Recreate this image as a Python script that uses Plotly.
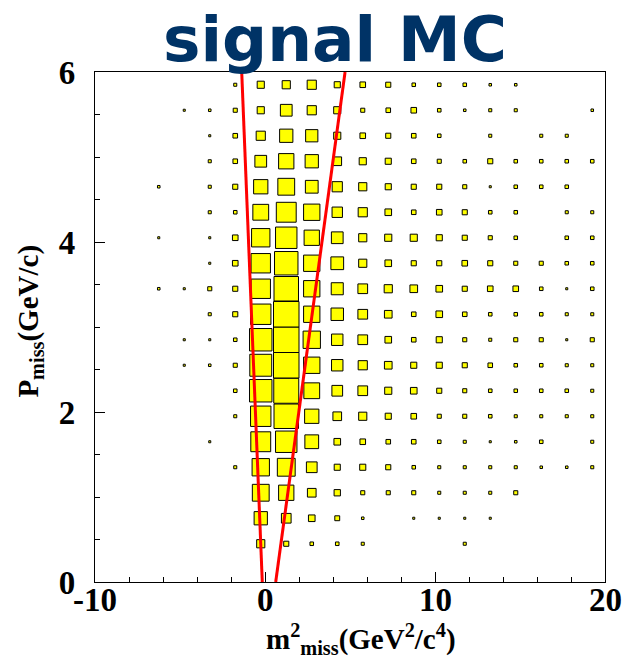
import plotly.graph_objects as go

# Histogram binning: m^2_miss (x) and P_miss (y)
x_lo, x_hi, nx = -10.0, 20.0, 20
y_lo, y_hi, ny = 0.0, 6.0, 20

# Axis tick labels
x_tick_vals = [-10, 0, 10, 20]
x_tick_text = ["-10", "0", "10", "20"]

# Bin contents, one list per P_miss bin (lowest first), 20 m^2_miss bins each
row_00 = [0, 0, 0, 0, 0, 0, 0, 0, 0, 0, 0, 0, 0, 0, 0, 0, 0, 0, 0, 0]
row_01 = [0, 0, 0, 0, 0, 0, 80, 50, 35, 35, 30, 0, 0, 0, 30, 0, 0, 0, 0, 0]
row_02 = [0, 0, 0, 0, 0, 0, 130, 95, 65, 48, 25, 0, 20, 20, 20, 20, 0, 0, 0, 0]
row_03 = [0, 0, 0, 0, 0, 0, 165, 150, 85, 62, 40, 40, 40, 30, 30, 30, 40, 0, 0, 0]
row_04 = [0, 0, 0, 0, 0, 30, 170, 175, 105, 60, 60, 50, 35, 30, 30, 30, 30, 25, 25, 30]
row_05 = [0, 0, 0, 0, 20, 0, 195, 210, 135, 65, 55, 45, 45, 35, 30, 20, 25, 35, 0, 30]
row_06 = [0, 0, 0, 0, 0, 30, 200, 240, 140, 85, 80, 60, 55, 40, 40, 35, 30, 30, 30, 30]
row_07 = [0, 0, 0, 0, 0, 35, 220, 245, 155, 105, 95, 70, 65, 50, 40, 35, 35, 35, 35, 30]
row_08 = [0, 0, 0, 20, 25, 40, 215, 250, 160, 112, 90, 75, 60, 60, 50, 45, 35, 35, 30, 30]
row_09 = [0, 0, 0, 20, 20, 35, 220, 250, 170, 112, 95, 65, 45, 60, 40, 30, 40, 40, 20, 40]
row_10 = [0, 0, 0, 0, 30, 50, 200, 250, 160, 122, 95, 75, 45, 65, 45, 35, 35, 35, 30, 30]
row_11 = [0, 0, 25, 20, 40, 50, 190, 240, 160, 118, 95, 80, 75, 65, 50, 55, 55, 35, 20, 35]
row_12 = [0, 0, 0, 0, 20, 55, 190, 230, 160, 125, 80, 65, 50, 50, 55, 50, 40, 40, 35, 35]
row_13 = [0, 0, 20, 0, 20, 55, 180, 210, 150, 115, 80, 70, 70, 60, 50, 40, 35, 0, 35, 35]
row_14 = [0, 0, 0, 0, 30, 35, 155, 195, 160, 102, 90, 65, 45, 55, 50, 35, 35, 0, 30, 30]
row_15 = [0, 0, 25, 0, 30, 50, 140, 165, 125, 100, 80, 60, 50, 50, 40, 20, 35, 35, 35, 0]
row_16 = [0, 0, 0, 0, 30, 45, 115, 150, 130, 85, 70, 60, 45, 40, 35, 50, 35, 35, 35, 35]
row_17 = [0, 0, 0, 0, 20, 45, 90, 130, 120, 70, 55, 50, 45, 35, 0, 30, 0, 30, 30, 0]
row_18 = [0, 0, 0, 20, 25, 40, 70, 115, 90, 70, 40, 45, 55, 35, 25, 30, 30, 0, 0, 25]
row_19 = [0, 0, 0, 0, 0, 30, 70, 80, 90, 60, 55, 50, 35, 35, 35, 25, 25, 0, 0, 0]

# Signal-region boundary lines (m^2_miss as a function of P_miss)
cut_p = [0.0, 6.0]
cut_low_m2 = [-0.16, -1.37]
cut_high_m2 = [0.63, 4.71]

rows = [row_00, row_01, row_02, row_03, row_04, row_05, row_06, row_07, row_08, row_09,
        row_10, row_11, row_12, row_13, row_14, row_15, row_16, row_17, row_18, row_19]

dx = (x_hi - x_lo) / nx
dy = (y_hi - y_lo) / ny
zmax = max(max(r) for r in rows)

fig = go.Figure()

# BOX-style 2D histogram: box side proportional to bin content
shapes = []
for j, row in enumerate(rows):
    yc = y_lo + (j + 0.5) * dy
    for i, v in enumerate(row):
        if v <= 0:
            continue
        xc = x_lo + (i + 0.5) * dx
        f = v / zmax
        shapes.append(dict(
            type="rect", xref="x", yref="y", layer="below",
            x0=xc - 0.5 * dx * f, x1=xc + 0.5 * dx * f,
            y0=yc - 0.5 * dy * f, y1=yc + 0.5 * dy * f,
            fillcolor="#ffff00", line=dict(color="black", width=1),
        ))

for m2 in (cut_low_m2, cut_high_m2):
    fig.add_trace(go.Scatter(
        x=m2, y=cut_p, mode="lines",
        line=dict(color="#ff0000", width=3),
        hoverinfo="skip", showlegend=False,
    ))

tick_font = dict(family="Liberation Serif", size=33, color="black", weight="bold")
title_font = dict(family="Liberation Serif", size=29, color="black", weight="bold")

annotations = [
    dict(text="signal MC", xref="paper", yref="paper",
         x=0.4706, y=1.063, xanchor="center", yanchor="middle", showarrow=False,
         font=dict(family="DejaVu Sans", size=63, color="#003366", weight="bold")),
    dict(text="m<sup>2</sup><sub>miss</sub>(GeV<sup>2</sup>/c<sup>4</sup>)",
         xref="paper", yref="paper", x=0.5216, y=-0.111,
         xanchor="center", yanchor="middle", showarrow=False, font=title_font),
    dict(text="P<sub>miss</sub>(GeV/c)", xref="paper", yref="paper",
         x=-0.128, y=0.512, xanchor="center", yanchor="middle",
         textangle=-90, showarrow=False, font=title_font),
]
# x tick labels placed just under the axis at each tick value
for v, t in zip(x_tick_vals, x_tick_text):
    annotations.append(dict(
        text=t, xref="x", yref="y", x=v, y=y_lo, xanchor="center", yanchor="middle",
        yshift=-18, showarrow=False, font=tick_font,
    ))

fig.update_layout(
    width=626, height=661, autosize=False,
    margin=dict(l=95, r=21, t=72, b=79, pad=0),
    paper_bgcolor="white", plot_bgcolor="white",
    shapes=shapes, showlegend=False,
    xaxis=dict(
        range=[x_lo, x_hi], showgrid=False, zeroline=False, automargin=False,
        showline=True, linecolor="black", linewidth=1.2, mirror=True,
        tickmode="array", tickvals=x_tick_vals, showticklabels=False,
        ticks="inside", ticklen=10, tickwidth=1, tickcolor="black",
        minor=dict(ticks="inside", ticklen=5, dtick=2, tickcolor="black", tickwidth=1),
    ),
    yaxis=dict(
        range=[y_lo, y_hi], showgrid=False, zeroline=False, automargin=False,
        showline=True, linecolor="black", linewidth=1.2, mirror=True,
        tickmode="linear", tick0=0, dtick=2,
        ticks="inside", ticklen=10, tickwidth=1, tickcolor="black",
        minor=dict(ticks="inside", ticklen=5, dtick=0.5, tickcolor="black", tickwidth=1),
        tickfont=tick_font, ticklabelstandoff=12,
    ),
    annotations=annotations,
)

fig.write_html("out.html")
